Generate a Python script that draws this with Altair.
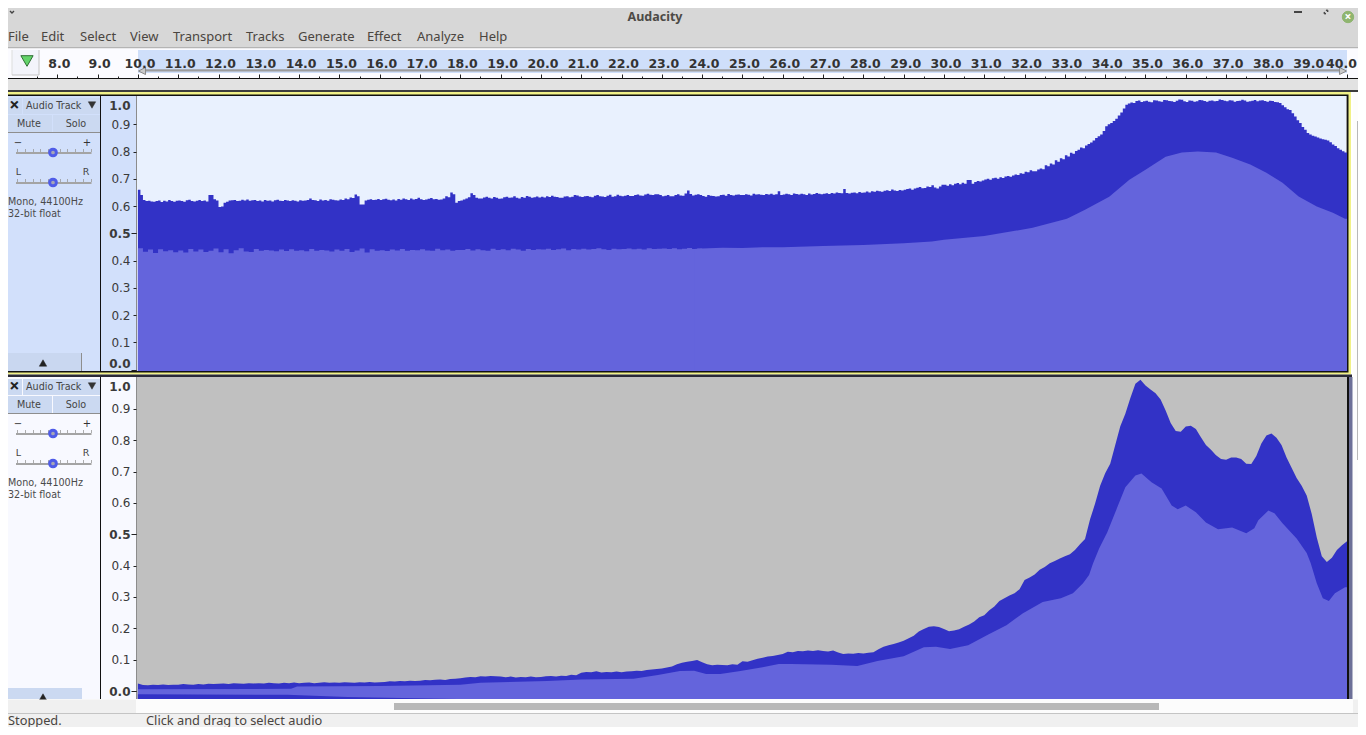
import altair as alt
import pandas as pd

# ---------- data ----------
ruler_major = [float(v) for v in range(8, 41)]
ruler_minor = [v + 0.5 for v in range(7, 40)]
amp_ticks = [0.0, 0.1, 0.2, 0.3, 0.4, 0.5, 0.6, 0.7, 0.8, 0.9, 1.0]
amp_major = [0.0, 0.5]

# thousandths, one row per second from 10 s
top_peak_rows = [
 [660,640,622,618,619,617,616,618,620,615,619,617,622,618,616,619],
 [620,618,616,621,623,618,617,619,622,618,620,617,640,640,625,620],
 [596,598,612,616,620,621,622,618,619,623,620,624,619,621,622,618],
 [620,617,622,619,620,617,621,623,619,618,622,620,618,621,619,617],
 [621,619,620,622,628,622,621,618,624,620,622,619,625,623,621,620],
 [624,622,628,625,631,629,642,636,606,606,620,623,625,622,623,626],
 [622,625,627,623,621,624,620,626,623,628,625,622,628,624,626,630],
 [625,622,624,627,629,625,626,623,624,628,636,632,650,643,612,618],
 [620,624,628,632,647,640,630,628,628,631,634,630,628,633,630,627],
 [628,632,634,630,631,636,630,628,633,630,637,634,630,632,635,631],
 [634,631,636,633,638,634,633,630,630,635,636,632,634,640,639,635],
 [633,636,637,634,632,638,640,636,635,633,638,641,634,636,641,638],
 [636,638,640,637,637,640,642,639,638,642,645,641,640,643,643,640],
 [636,638,640,636,636,640,643,639,638,646,657,644,639,641,643,640],
 [637,634,640,638,637,635,636,640,641,638,644,640,639,641,642,640],
 [640,643,641,639,645,642,643,641,640,644,642,645,641,643,654,640],
 [642,645,643,640,646,644,642,645,643,640,646,642,644,648,645,643],
 [645,647,644,648,646,650,648,647,662,648,646,649,650,647,651,649],
 [650,653,650,654,652,656,654,652,656,658,655,661,657,655,659,657],
 [660,662,664,660,664,667,670,665,666,672,670,676,668,664,672,678],
 [678,674,680,676,682,684,680,685,682,695,695,682,688,692,690,694],
 [697,700,696,702,704,700,706,703,708,710,707,712,716,714,720,718],
 [726,724,731,728,728,734,738,735,750,746,756,752,768,762,775,772],
 [786,782,795,792,802,806,815,812,822,828,833,840,850,856,862,875],
 [893,900,905,912,920,932,943,958,972,976,980,978,985,987,982,984],
 [986,983,981,988,987,984,983,989,988,985,984,982,986,991,990,984],
 [982,987,986,983,984,989,988,985,983,986,987,984,985,991,989,986],
 [984,988,987,983,985,986,990,987,983,984,986,989,984,987,988,985],
 [983,986,985,982,981,978,970,962,955,952,940,928,915,905,890,880],
 [868,862,858,855,851,848,845,843,840,834,826,820,812,806,801,796],
 [790],
]

top_rms_rows = [
 [445,432,440,428,441,434,438,430],
 [437,429,442,433,440,431,436,444],
 [430,441,427,438,445,433,431,442],
 [436,439,437,434,440,435,441,436],
 [438,434,442,436,439,437,433,440],
 [436,442,431,437,444,429,441,436],
 [438,435,440,437,442,436,439,438],
 [441,437,436,443,438,440,436,439],
 [439,442,437,441,438,436,443,439],
 [441,438,443,440,436,442,439,441],
 [440,443,439,441,444,438,442,440],
 [443,440,442,445,441,439,443,441],
 [442,444,441,443,440,445,442,443],
 [444,442,445,441,443,446,442,444],
 [444],
]
top_rms_tail_t = [23.8,24,24.5,25,25.5,26,27,27.25,28,29,29.7,30,31,31.4,32.2,33.05,33.5,34.1,34.6,35,35.5,35.9,36.3,36.75,
                  37.15,37.6,38,38.4,38.8,39.25,39.65,39.95,40]
top_rms_tail = [.442,.444,.447,.446,.449,.449,.453,.454,.457,.463,.47,.476,.49,.50,.52,.553,.586,.634,.696,.733,.781,.796,.80,
                .796,.777,.752,.722,.685,.635,.598,.575,.553,.553]

bot_peak_rows = [
 [24,19,18,20,19,21,19,20],
 [20,22,21,20,22,21,23,22],
 [23,24,22,25,24,23,25,24],
 [25,24,26,25,24,26,25,27],
 [25,26,27,25,26,28,26,27],
 [26,28,27,26,28,27,29,27],
 [28,29,31,30,32,31,33,32],
 [33,35,34,36,37,35,38,39],
 [41,43,45,44,47,46,48,47],
 [46,44,46,43,45,44,46,44],
 [45,47,48,46,49,48,52,50],
 [58,61,60,63,59,61,60,62],
 [60,62,63,65,64,67,69,70],
 [72,75,78,85,90,93,96,99],
 [92,85,82,84,83,82,85,84],
 [95,93,98,103,106,110,112,115],
 [118,125,124,128,127,129,128,130],
 [128,126,129,123,118,120,119,121],
 [120,122,124,133,141,146,150,155],
 [160,168,176,190,198,205,207,204],
 [198,191,193,197,205,212,222,235],
 [242,258,270,287,296,305,312,325],
 [354,362,372,387,396,408,415,423],
 [430,436,450,468,485,548,598,655],
 [695,725,785,845,885,935,980,993],
 [975,962,950,930,895,855,830,827],
 [844,846,836,810,785,770,752,740],
 [738,745,745,740,725,724,750,790],
 [815,822,808,785,745,712,680,655],
 [624,565,490,430,412,425,450,465],
 [478],
]

bot_rms_t = [10,13.8,13.95,16,18,18.5,20.15,21,22.3,22.9,23.45,23.8,24.1,24.45,24.95,25.5,25.9,26.2,27.2,27.85,28.35,29,
             29.5,29.8,30.15,30.6,31.1,31.55,31.96,32.45,32.9,33.2,33.45,33.6,33.7,33.85,34.05,34.3,34.5,34.75,34.9,
             35.15,35.4,35.65,35.8,36,36.25,36.5,36.8,37.15,37.5,37.7,37.8,38.05,38.2,38.4,38.75,39,39.1,39.25,39.4,
             39.55,39.7,39.95,40]
bot_rms = [.006,.007,.014,.016,.02,.0265,.032,.037,.039,.051,.064,.065,.054,.054,.064,.076,.086,.086,.084,.08,.096,.111,
           .14,.141,.134,.146,.18,.21,.248,.284,.296,.312,.344,.37,.408,.455,.506,.586,.65,.688,.694,.666,.646,.592,.58,
           .592,.57,.538,.516,.522,.503,.519,.545,.576,.567,.535,.487,.44,.408,.344,.296,.287,.312,.331,.331]
bot_neg_t = [10,13.7,15.2,17.9,18,40]
bot_neg_rms = [-.010,-.012,-.019,-.0255,-.0255,-.0255]
bot_neg_peak = -0.0255
top_floor = -0.005

menu_labels = ["File","Edit","Select","View","Transport","Tracks","Generate","Effect","Analyze","Help"]
menu_left = [8,41,80,130,173,246,298,367,417,479]


def unroll(rows):
    ts, vs = [], []
    for i, row in enumerate(rows):
        for j, v in enumerate(row):
            ts.append(10 + i + j / len(row))
            vs.append(v / 1000)
    return ts, vs


top_peak_t, top_peak = unroll(top_peak_rows)
bot_peak_t, bot_peak = unroll(bot_peak_rows)
rms_head_t, rms_head = unroll(top_rms_rows)

# ---------- helpers ----------
one = pd.DataFrame({"a": [0]})
UI = "Noto Sans"
DJ = "DejaVu Sans"

def box(x0, y0, x1, y1, color):
    return alt.Chart(one).mark_rect(color=color).encode(
        x=alt.value(x0 - 8), x2=alt.value(x1 - 8), y=alt.value(y0 - 8), y2=alt.value(y1 - 8))

def txt(s, x, y, size=13, font=UI, color="#4a4540", align="left", weight="normal"):
    return alt.Chart(one).mark_text(text=s, align=align, baseline="middle", font=font, fontSize=size,
                                    color=color, fontWeight=weight).encode(x=alt.value(x - 8), y=alt.value(y - 8))

def pt(x, y, shape, size, fill, stroke, sw=1.0):
    return alt.Chart(one).mark_point(shape=shape, size=size, fill=fill, stroke=stroke, strokeWidth=sw,
                                     opacity=1, fillOpacity=1).encode(x=alt.value(x - 8), y=alt.value(y - 8))

xs = alt.Scale(domain=[7, 40], range=[17 - 8, 1347 - 8], nice=False, zero=False)
ys_top = alt.Scale(domain=[top_floor, 1], range=[370.9 - 8, 97 - 8], nice=False, zero=False)
ys_bot = alt.Scale(domain=[bot_neg_peak, 1], range=[699 - 8, 377.6 - 8], nice=False, zero=False)

def wave(t, a, b, color, ys, yaxis=None, xaxis=None, interp="linear"):
    d = pd.DataFrame({"t": t, "a": a, "b": b})
    return alt.Chart(d).mark_area(color=color, interpolate=interp, opacity=1).encode(
        x=alt.X("t:Q", scale=xs, axis=xaxis),
        y=alt.Y("a:Q", scale=ys, axis=yaxis),
        y2=alt.Y2("b:Q"))

def y_label_axis(shift_top, shift_bottom):
    return alt.Axis(
        values=amp_ticks, title=None, orient="left", offset=-128, grid=False, domain=False, zindex=1,
        tickSize=3, tickColor="#222222", labelPadding=3, format=".1f", labelFont=DJ, labelFontSize=12,
        labelColor="#3a3a3a",
        labelFontWeight={"condition": {"test": "datum.value==0||datum.value==0.5||datum.value==1", "value": "bold"}, "value": "normal"},
        labelOffset={"condition": [{"test": "datum.value==1", "value": shift_top},
                                   {"test": "datum.value==0", "value": shift_bottom}], "value": 0},
        tickOpacity={"condition": {"test": "datum.value==1", "value": 0}, "value": 1})

def y_major_axis():
    return alt.Axis(values=amp_major, title=None, orient="left", offset=-128, grid=False, domain=False, zindex=1,
                    tickSize=5, tickColor="#222222", labels=False)

x_label_axis = alt.Axis(values=ruler_major, title=None, orient="top", offset=-70, grid=False, domain=False, zindex=1,
                        tickSize=4, tickColor="#222222", labelPadding=4, format=".1f", labelFont=DJ, labelFontSize=12.5,
                        labelFontWeight="bold", labelColor="#333333",
                        labelOffset={"condition": {"test": "datum.value==40", "value": -6}, "value": 1.5},
                        labelOverlap=False, labelFlush=False, labelBound=False)
x_minor_axis = alt.Axis(values=ruler_minor, title=None, orient="top", offset=-70, grid=False, domain=False, zindex=1,
                        tickSize=2, tickColor="#222222", labels=False)

layers = []
# window chrome
layers += [box(0, 0, 1366, 727, "#ffffff"), box(0, 0, 1366, 47, "#d7d7d7"), box(0, 47, 1366, 48.5, "#b4b4b4")]
layers.append(txt("Audacity", 655, 17, 12.5, weight="bold", align="center", color="#4d4a46"))
layers.append(pt(12, 12, "M-1,-0.5L0,0.5L1,-0.5", 16, "transparent", "#444444", 1.4))
layers.append(box(1294, 11, 1302, 13, "#444444"))
layers.append(pt(1326, 12, "M-1,1L0,1L-1,0ZM1,-1L0,-1L1,0Z", 14, "#444444", "#444444", 1))
layers.append(pt(1348, 17, "circle", 130, "#8fb56f", "#8fb56f"))
layers.append(txt("×", 1348, 17, 12, color="#ffffff", align="center", weight="bold"))
for lab, x in zip(menu_labels, menu_left):
    layers.append(txt(lab, x, 37, 13))

# ruler
layers += [box(0, 48.5, 1366, 78, "#fbfbff"), box(138, 50, 1347, 73, "#cfdffa"),
           box(0, 79, 1366, 90, "#e2e2e2"), box(0, 78, 1366, 79, "#111111"), box(0, 90, 1366, 92, "#3c3c3c"),
           box(12, 50, 39, 75, "#f3f4fb"), box(38.5, 50, 39.5, 75, "#c4c4c4"), box(11.5, 50, 12.5, 75, "#dddddd"),
           box(12, 74.5, 39, 75.5, "#c4c4c4")]
layers.append(pt(27, 61, "triangle-down", 150, "#63d36a", "#2f6e35", 1))
layers.append(box(144, 69.3, 1341, 71.5, "#9c9c9c"))
layers.append(pt(142, 71, "M1,-1L-1,0L1,1Z", 50, "#c9c9c9", "#8a8a8a", 1))
layers.append(pt(1343, 71, "M-1,-1L1,0L-1,1Z", 50, "#c9c9c9", "#8a8a8a", 1))

# track frames and backgrounds
layers += [box(1.5, 92, 1351, 374.5, "#f1f188"), box(3.5, 94.5, 1348.5, 372.5, "#111111"),
           box(0, 374.5, 1352, 377, "#2a2a38"), box(0, 377, 4.5, 699, "#60628a"),
           box(1347, 377, 1349, 699, "#111111"), box(1349, 377, 1352.5, 699, "#6d7098"),
           box(1353, 92, 1366, 700, "#fdfdfd"), box(1357, 121, 1362.5, 460, "#b9b9b9"),
           box(5, 96, 100, 371, "#d2e0fb"), box(101, 96, 136, 371, "#d2e0fb"), box(136, 96, 137, 371, "#8c8c8c"),
           box(137, 96, 1346, 371, "#e9f1fe"), box(1346, 96, 1347, 371, "#9a9a9a"),
           box(5, 377, 100, 699, "#f8f9ff"), box(100, 377, 101, 699, "#111111"),
           box(101, 377, 136, 699, "#f8f9ff"), box(136, 377, 137, 699, "#8c8c8c"),
           box(137, 377, 1347, 699, "#c0c0c0")]

# track panels
for dy in (0, 281):
    layers += [box(5, 98 + dy, 22, 114 + dy, "#cbd9f1"), box(23, 98 + dy, 100, 114 + dy, "#cbd9f1"),
               box(5, 115 + dy, 52, 132 + dy, "#cbd9f1"), box(53, 115 + dy, 100, 132 + dy, "#cbd9f1"),
               box(5, 132 + dy, 100, 133 + dy, "#8e8e8e")]
    layers.append(txt("×", 14.5, 105.5 + dy, 18, color="#222222", align="center", weight="bold"))
    layers.append(txt("Audio Track", 26, 105.5 + dy, 9.6, DJ, "#444444"))
    layers.append(pt(92, 105 + dy, "triangle-down", 55, "#333333", "#333333", 0.5))
    layers.append(txt("Mute", 29, 123.5 + dy, 9.6, DJ, "#444444", "center"))
    layers.append(txt("Solo", 76, 123.5 + dy, 9.6, DJ, "#444444", "center"))
    layers.append(txt("−", 18, 143 + dy, 10, DJ, "#333333", "center"))
    layers.append(txt("+", 87, 143 + dy, 10, DJ, "#333333", "center"))
    layers.append(txt("L", 18.5, 171.5 + dy, 9.5, DJ, "#444444", "center"))
    layers.append(txt("R", 86, 171.5 + dy, 9.5, DJ, "#444444", "center"))
    for yy in (152, 182):
        layers.append(box(16, yy + dy, 91.5, yy + 2 + dy, "#a4a4a4"))
        for tx in (17, 25, 33, 40, 48, 60, 67, 75, 83, 91):
            layers.append(box(tx, yy - 3 + dy, tx + 0.8, yy + dy, "#9a9a9a"))
        layers.append(pt(53, yy + 0.5 + dy, "circle", 45, "#a6a6b6", "#4f5ce8", 3))
    layers.append(txt("Mono, 44100Hz", 8, 201.5 + dy, 9.6, DJ, "#4a4a4a"))
    layers.append(txt("32-bit float", 8, 213.5 + dy, 9.6, DJ, "#4a4a4a"))
layers += [box(100, 96, 101, 372, "#111111")]
layers += [box(5, 353, 82, 371, "#c9d7f0"), box(81, 353, 82, 371, "#8e8e8e")]
layers.append(pt(43, 363, "triangle-up", 55, "#222222", "#222222", 0.5))
layers += [box(5, 688, 82, 699, "#cbd9f1")]
layers.append(pt(43, 697, "triangle-up", 55, "#222222", "#222222", 0.5))

# waveforms
PEAK = "#3232c6"
RMS = "#6464dc"
layers.append(wave(top_peak_t, top_peak, [top_floor] * len(top_peak), PEAK, ys_top,
                   yaxis=y_label_axis(8, -6.5), xaxis=x_label_axis, interp="step-after"))
layers.append(wave(rms_head_t, rms_head, [top_floor] * len(rms_head), RMS, ys_top,
                   yaxis=y_major_axis(), xaxis=x_minor_axis, interp="step-after"))
layers.append(wave(top_rms_tail_t, top_rms_tail, [top_floor] * len(top_rms_tail), RMS, ys_top))
layers.append(wave(bot_peak_t, bot_peak, [bot_neg_peak] * len(bot_peak), PEAK, ys_bot,
                   yaxis=y_label_axis(8.5, 0)))
layers.append(wave(bot_rms_t, bot_rms, [bot_neg_peak] * len(bot_rms), RMS, ys_bot, yaxis=y_major_axis()))
layers.append(wave(bot_neg_t, bot_neg_rms, [bot_neg_peak] * len(bot_neg_t), PEAK, ys_bot))

# bottom scroll and status bar
layers += [box(0, 699.5, 136, 713, "#f0f0f0"), box(136, 699.5, 1353, 713, "#fcfcfc"), box(1353, 699.5, 1366, 713, "#f0f0f0"),
           box(394, 703, 1159, 710, "#b8b8b8"), box(0, 713, 1366, 714, "#c4c4c4"),
           box(0, 714, 1366, 727, "#f0f0f0")]
layers.append(txt("Stopped.", 8, 720.5, 12.8))
layers.append(txt("Click and drag to select audio", 146, 720.5, 12.8))

chart = (alt.layer(*layers)
         .resolve_scale(x="independent", y="independent")
         .properties(width=1350, height=719, padding=0, autosize=alt.AutoSizeParams(type="none"))
         .configure_view(stroke=None))
chart.save("out.html", embed_options={"renderer": "svg", "actions": False})
